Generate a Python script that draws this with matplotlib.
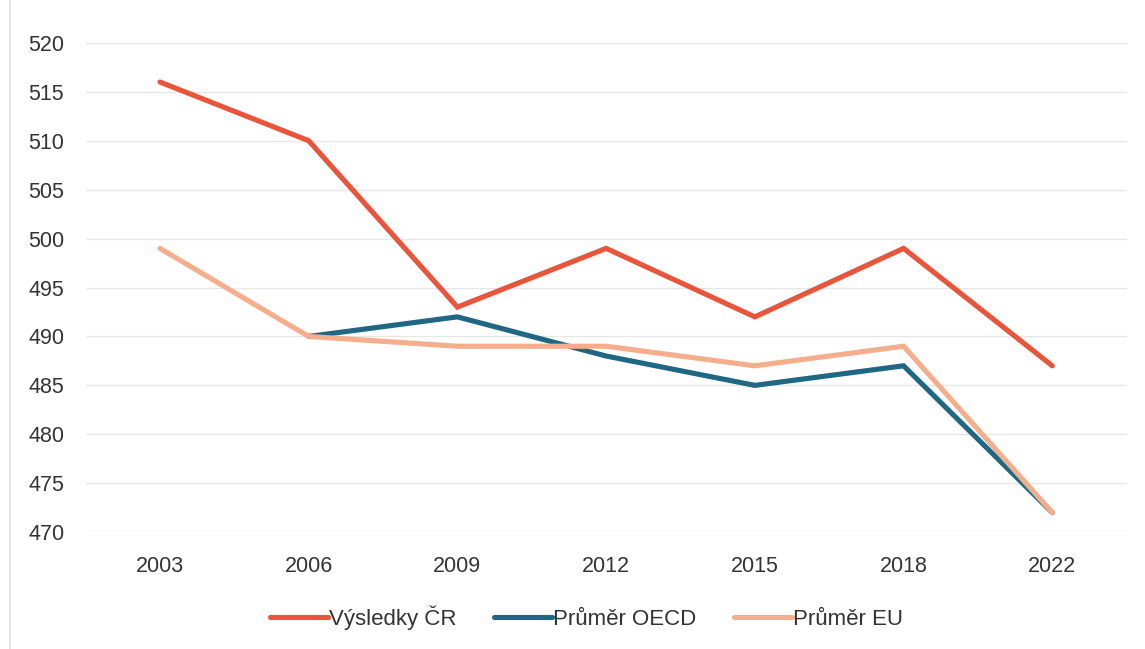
import numpy as np
import matplotlib.pyplot as plt
from matplotlib.patches import Rectangle

plt.rcParams['font.family'] = ['Liberation Sans', 'DejaVu Sans']

# Data
years = ['2003', '2006', '2009', '2012', '2015', '2018', '2022']
vysledky_cr = [516, 510, 493, 499, 492, 499, 487]
prumer_oecd = [np.nan, 490, 492, 488, 485, 487, 472]
prumer_eu = [499, 490, 489, 489, 487, 489, 472]

fig = plt.figure(figsize=(11.45, 6.49), dpi=100)
ax = fig.add_axes([0.0747, 0.180, 0.9093, 0.754])

x = np.arange(len(years))
ax.plot(x, vysledky_cr, color='#E8553A', lw=3.7, solid_capstyle='round',
        solid_joinstyle='miter', label='Výsledky ČR')
ax.plot(x, prumer_oecd, color='#1F6783', lw=3.7, solid_capstyle='round',
        solid_joinstyle='miter', label='Průměr OECD')
ax.plot(x, prumer_eu, color='#F5AE8B', lw=3.7, solid_capstyle='round',
        solid_joinstyle='miter', label='Průměr EU')

ax.set_xlim(-0.5, len(years) - 0.5)
ax.set_ylim(470, 520)
ax.set_yticks(range(470, 521, 5))
ax.set_xticks(x)
ax.set_xticklabels(years)
ax.tick_params(axis='both', length=0, labelsize=15.5, colors='#333333')
ax.tick_params(axis='x', pad=17)
ax.tick_params(axis='y', pad=41)
for lab in ax.get_yticklabels():
    lab.set_horizontalalignment('left')
ax.grid(axis='y', color='#E6E6E6', lw=1)
for s in ax.spines.values():
    s.set_visible(False)

leg = fig.legend(loc='center', bbox_to_anchor=(0.512, 0.048), ncol=3, frameon=False,
                 fontsize=16, handlelength=2.6, handletextpad=0.05, columnspacing=1.7)
for t in leg.get_texts():
    t.set_color('#333333')

fig.patches.append(Rectangle((0.009, -0.01), 1.0, 1.02, transform=fig.transFigure,
                             fill=False, edgecolor='#E4E4E4', lw=1.5))

fig.savefig('out.png', dpi=100)
